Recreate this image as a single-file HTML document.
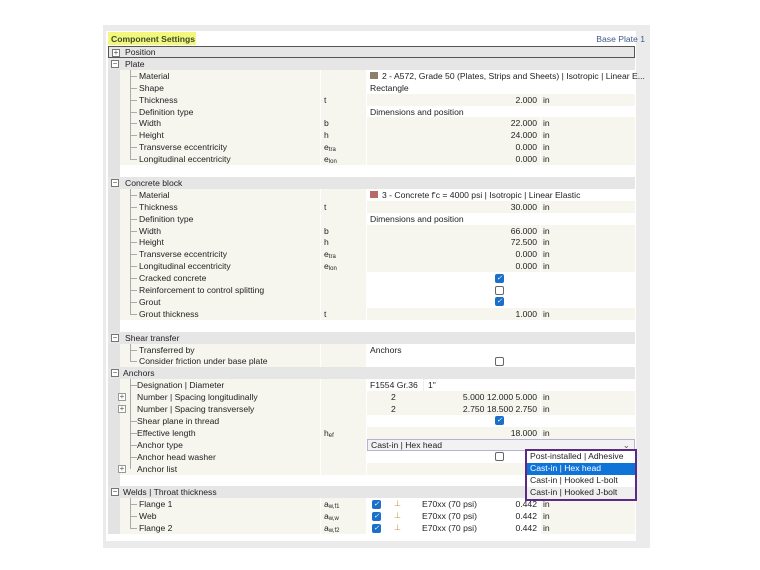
<!DOCTYPE html>
<html><head><meta charset="utf-8"><style>
*{margin:0;padding:0;box-sizing:border-box}
body{width:760px;height:570px;background:#fff;position:relative;overflow:hidden;font-family:"Liberation Sans",sans-serif;font-size:8.6px;color:#222}
.outer{position:absolute;left:103px;top:25px;width:547px;height:523px;background:#ebebeb}
.inner{position:absolute;left:106px;top:31px;width:530px;height:510px;background:#fff}
.title{position:absolute;left:108px;top:32px;width:88px;height:13px;background:#f4f77e;color:#3a4a2a;font-weight:bold;padding:2px 0 0 3px;font-size:8.6px}
.bp{position:absolute;right:115px;top:34px;color:#3c5a8c;font-size:8.6px}
.r{position:absolute;left:108px;width:527px;height:12px;line-height:12px;white-space:nowrap}
.r>*{position:absolute;top:0;height:12px}
.g{left:0;width:12px;background:#e3e3e3}
.n{left:12px;width:200px;background:#f6f6ef;padding-left:19px}
.s{left:213px;width:45px;background:#f6f6ef;padding-left:3px}
.v{left:259px;width:173px;background:#f6f6ef;padding-left:3px}
.vw{left:259px;width:268px;background:#fff;padding-left:3px}
.u{left:433px;width:94px;background:#f6f6ef;padding-left:2px}
.w{background:#fff}
.num{text-align:right;padding-right:3px;padding-left:0}
.h{background:#e6e6e6}
.h .ht{left:17px;padding-left:0}
.box{position:absolute;left:3px;top:2px;width:8px;height:8px;border:1px solid #777;background:#fff;font-size:8px;line-height:6px;text-align:center;color:#444}
.tl{position:absolute;left:22px;top:0;width:1px;height:12px;background:#aaa}
.th{position:absolute;left:22px;top:6px;width:7px;height:1px;background:#aaa}
sub{font-size:6px;vertical-align:-1px}
.cb{position:absolute;width:9px;height:9px;border-radius:2px;background:#1a6fc9;top:1.5px;color:#fff;font-size:7px;line-height:9px;text-align:center}
.cu{background:#fff;border:1px solid #666}
.sw{display:inline-block;width:8px;height:7px;margin-right:4px;vertical-align:-0.5px}
.pb{position:absolute;left:10px;top:2px;width:8px;height:8px;border:1px solid #999;background:#fff;font-size:8px;line-height:6px;text-align:center;color:#555}
.wi{position:absolute;left:27px;color:#c79a3a;font-size:8px}
.wt{position:absolute;left:55px}
.wn{position:absolute;left:350px;width:82px;text-align:right;padding-right:3px}
</style></head><body>
<div class="outer"></div><div class="inner"></div>
<div class="title">Component Settings</div>
<div class="bp">Base Plate 1</div>

<div class="r h" style="top:46px;border:1px solid #555"><span class="box">+</span><span class="ht" style="left:16px;top:-1px">Position</span></div>
<div class="r h" style="top:57.9px"><span class="box">−</span><span class="ht">Plate</span></div>
<div class="r" style="top:69.8px"><span class="g"></span><span class="n">Material</span><span class="tl"></span><span class="th"></span><span class="s"></span><span class="vw"><i class="sw" style="background:#8e7e6c"></i>2 - A572, Grade 50 (Plates, Strips and Sheets) | Isotropic | Linear E...</span></div>
<div class="r" style="top:81.7px"><span class="g"></span><span class="n">Shape</span><span class="tl"></span><span class="th"></span><span class="s"></span><span class="vw">Rectangle</span></div>
<div class="r" style="top:93.6px"><span class="g"></span><span class="n">Thickness</span><span class="tl"></span><span class="th"></span><span class="s">t</span><span class="v num">2.000</span><span class="u">in</span></div>
<div class="r" style="top:105.5px"><span class="g"></span><span class="n">Definition type</span><span class="tl"></span><span class="th"></span><span class="s"></span><span class="vw">Dimensions and position</span></div>
<div class="r" style="top:117.4px"><span class="g"></span><span class="n">Width</span><span class="tl"></span><span class="th"></span><span class="s">b</span><span class="v num">22.000</span><span class="u">in</span></div>
<div class="r" style="top:129.3px"><span class="g"></span><span class="n">Height</span><span class="tl"></span><span class="th"></span><span class="s">h</span><span class="v num">24.000</span><span class="u">in</span></div>
<div class="r" style="top:141.2px"><span class="g"></span><span class="n">Transverse eccentricity</span><span class="tl"></span><span class="th"></span><span class="s">e<sub>tra</sub></span><span class="v num">0.000</span><span class="u">in</span></div>
<div class="r" style="top:153.1px"><span class="g"></span><span class="n">Longitudinal eccentricity</span><span class="tl" style="height:6px"></span><span class="th"></span><span class="s">e<sub>lon</sub></span><span class="v num">0.000</span><span class="u">in</span></div>
<div class="r" style="top:165px"><span class="g"></span></div>

<div class="r h" style="top:176.9px"><span class="box">−</span><span class="ht">Concrete block</span></div>
<div class="r" style="top:188.8px"><span class="g"></span><span class="n">Material</span><span class="tl"></span><span class="th"></span><span class="s"></span><span class="vw"><i class="sw" style="background:#b86a6a"></i>3 - Concrete f'c = 4000 psi | Isotropic | Linear Elastic</span></div>
<div class="r" style="top:200.7px"><span class="g"></span><span class="n">Thickness</span><span class="tl"></span><span class="th"></span><span class="s">t</span><span class="v num">30.000</span><span class="u">in</span></div>
<div class="r" style="top:212.6px"><span class="g"></span><span class="n">Definition type</span><span class="tl"></span><span class="th"></span><span class="s"></span><span class="vw">Dimensions and position</span></div>
<div class="r" style="top:224.5px"><span class="g"></span><span class="n">Width</span><span class="tl"></span><span class="th"></span><span class="s">b</span><span class="v num">66.000</span><span class="u">in</span></div>
<div class="r" style="top:236.4px"><span class="g"></span><span class="n">Height</span><span class="tl"></span><span class="th"></span><span class="s">h</span><span class="v num">72.500</span><span class="u">in</span></div>
<div class="r" style="top:248.3px"><span class="g"></span><span class="n">Transverse eccentricity</span><span class="tl"></span><span class="th"></span><span class="s">e<sub>tra</sub></span><span class="v num">0.000</span><span class="u">in</span></div>
<div class="r" style="top:260.2px"><span class="g"></span><span class="n">Longitudinal eccentricity</span><span class="tl"></span><span class="th"></span><span class="s">e<sub>lon</sub></span><span class="v num">0.000</span><span class="u">in</span></div>
<div class="r" style="top:272.1px"><span class="g"></span><span class="n">Cracked concrete</span><span class="tl"></span><span class="th"></span><span class="s"></span><span class="vw"><i class="cb" style="left:128px">✓</i></span></div>
<div class="r" style="top:284px"><span class="g"></span><span class="n">Reinforcement to control splitting</span><span class="tl"></span><span class="th"></span><span class="s"></span><span class="vw"><i class="cb cu" style="left:128px"></i></span></div>
<div class="r" style="top:295.9px"><span class="g"></span><span class="n">Grout</span><span class="tl"></span><span class="th"></span><span class="s"></span><span class="vw"><i class="cb" style="left:128px">✓</i></span></div>
<div class="r" style="top:307.8px"><span class="g"></span><span class="n">Grout thickness</span><span class="tl" style="height:6px"></span><span class="th"></span><span class="s">t</span><span class="v num">1.000</span><span class="u">in</span></div>
<div class="r" style="top:319.7px"><span class="g"></span></div>

<div class="r h" style="top:331.6px"><span class="box">−</span><span class="ht">Shear transfer</span></div>
<div class="r" style="top:343.5px"><span class="g"></span><span class="n">Transferred by</span><span class="tl"></span><span class="th"></span><span class="s"></span><span class="vw">Anchors</span></div>
<div class="r" style="top:355.4px"><span class="g"></span><span class="n">Consider friction under base plate</span><span class="tl" style="height:6px"></span><span class="th"></span><span class="s"></span><span class="vw"><i class="cb cu" style="left:128px"></i></span></div>

<div class="r h" style="top:367.3px"><span class="box">−</span><span class="ht" style="left:15px">Anchors</span></div>
<div class="r" style="top:379.2px"><span class="g"></span><span class="n" style="padding-left:17px">Designation | Diameter</span><span class="tl"></span><span class="th"></span><span class="s"></span><span class="vw">F1554 Gr.36<span style="position:absolute;left:56px;top:0;width:1px;height:12px;background:#eee"></span><span style="position:absolute;left:61px">1"</span></span></div>
<div class="r" style="top:391.1px"><span class="g"></span><span class="n" style="padding-left:17px">Number | Spacing longitudinally</span><span class="tl"></span><span class="pb">+</span><span class="s"></span><span class="v num"><span style="position:absolute;left:24px">2</span>5.000 12.000 5.000</span><span class="u">in</span></div>
<div class="r" style="top:403px"><span class="g"></span><span class="n" style="padding-left:17px">Number | Spacing transversely</span><span class="tl"></span><span class="pb">+</span><span class="s"></span><span class="v num"><span style="position:absolute;left:24px">2</span>2.750 18.500 2.750</span><span class="u">in</span></div>
<div class="r" style="top:414.9px"><span class="g"></span><span class="n" style="padding-left:17px">Shear plane in thread</span><span class="tl"></span><span class="th"></span><span class="s"></span><span class="vw"><i class="cb" style="left:128px">✓</i></span></div>
<div class="r" style="top:426.8px"><span class="g"></span><span class="n" style="padding-left:17px">Effective length</span><span class="tl"></span><span class="th"></span><span class="s">h<sub>ef</sub></span><span class="v num">18.000</span><span class="u">in</span></div>
<div class="r" style="top:438.7px"><span class="g"></span><span class="n" style="padding-left:17px">Anchor type</span><span class="tl"></span><span class="th"></span><span class="s"></span><span class="v" style="width:268px;background:#f2f2f2;border:1px solid #b9b0d8;line-height:10px">Cast-in | Hex head<span style="position:absolute;right:4px;top:0;color:#555">⌄</span></span></div>
<div class="r" style="top:450.6px"><span class="g"></span><span class="n" style="padding-left:17px">Anchor head washer</span><span class="tl"></span><span class="th"></span><span class="s"></span><span class="vw"><i class="cb cu" style="left:128px"></i></span></div>
<div class="r" style="top:462.5px"><span class="g"></span><span class="n" style="padding-left:17px">Anchor list</span><span class="tl" style="height:6px"></span><span class="pb">+</span><span class="s"></span><span class="v"></span><span class="u"></span></div>
<div class="r" style="top:474.4px"><span class="g"></span></div>

<div class="r h" style="top:486.3px"><span class="box">−</span><span class="ht" style="left:15px">Welds | Throat thickness</span></div>
<div class="r" style="top:498.2px"><span class="g"></span><span class="n">Flange 1</span><span class="tl"></span><span class="th"></span><span class="s">a<sub>w,f1</sub></span><span class="v w"><i class="cb" style="left:5px">✓</i><span class="wi">⊥</span><span class="wt">E70xx (70 psi)</span><span class="wn" style="left:91px">0.442</span></span><span class="u">in</span></div>
<div class="r" style="top:510.1px"><span class="g"></span><span class="n">Web</span><span class="tl"></span><span class="th"></span><span class="s">a<sub>w,w</sub></span><span class="v w"><i class="cb" style="left:5px">✓</i><span class="wi">⊥</span><span class="wt">E70xx (70 psi)</span><span class="wn" style="left:91px">0.442</span></span><span class="u">in</span></div>
<div class="r" style="top:522px"><span class="g"></span><span class="n">Flange 2</span><span class="tl" style="height:6px"></span><span class="th"></span><span class="s">a<sub>w,f2</sub></span><span class="v w"><i class="cb" style="left:5px">✓</i><span class="wi">⊥</span><span class="wt">E70xx (70 psi)</span><span class="wn" style="left:91px">0.442</span></span><span class="u">in</span></div>

<div style="position:absolute;left:525px;top:449px;width:112px;height:52px;border:2px solid #5a2a86;background:#fff;font-size:8.6px;line-height:11.9px">
<div style="padding-left:3px">Post-installed | Adhesive</div>
<div style="padding-left:3px;background:#0f73d8;color:#fff">Cast-in | Hex head</div>
<div style="padding-left:3px">Cast-in | Hooked L-bolt</div>
<div style="padding-left:3px;background:#efefef">Cast-in | Hooked J-bolt</div>
</div>
</body></html>
